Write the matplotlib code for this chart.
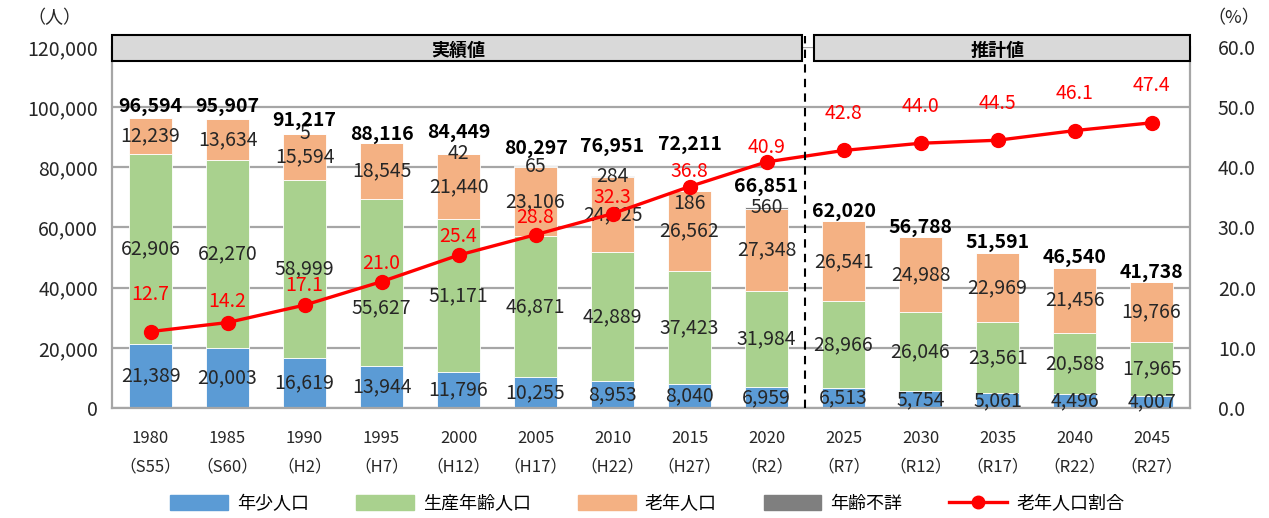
"""
Population by age group (stacked bars) with elderly ratio line.
Outputs out.png.
"""

import matplotlib.pyplot as plt
from matplotlib.patches import Rectangle, Patch
from matplotlib.lines import Line2D
from matplotlib.ticker import FuncFormatter

plt.rcParams["font.family"] = ["Noto Sans CJK JP", "DejaVu Sans"]

years = ["1980", "1985", "1990", "1995", "2000", "2005", "2010",
         "2015", "2020", "2025", "2030", "2035", "2040", "2045"]
eras = ["S55", "S60", "H2", "H7", "H12", "H17", "H22",
        "H27", "R2", "R7", "R12", "R17", "R22", "R27"]

young = [21389, 20003, 16619, 13944, 11796, 10255, 8953,
         8040, 6959, 6513, 5754, 5061, 4496, 4007]
working = [62906, 62270, 58999, 55627, 51171, 46871, 42889,
           37423, 31984, 28966, 26046, 23561, 20588, 17965]
elderly = [12239, 13634, 15594, 18545, 21440, 23106, 24825,
           26562, 27348, 26541, 24988, 22969, 21456, 19766]
unknown = [0, 0, 5, 0, 42, 65, 284, 186, 560, 0, 0, 0, 0, 0]
totals = [96594, 95907, 91217, 88116, 84449, 80297, 76951,
          72211, 66851, 62020, 56788, 51591, 46540, 41738]
ratio = [12.7, 14.2, 17.1, 21.0, 25.4, 28.8, 32.3,
         36.8, 40.9, 42.8, 44.0, 44.5, 46.1, 47.4]

C_YOUNG = "#5B9BD5"
C_WORK = "#A9D18E"
C_OLD = "#F4B183"
C_UNK = "#7F7F7F"
C_RED = "#FF0000"
C_GRID = "#A6A6A6"
C_TEXT = "#262626"

LABEL_FS = 14
N_ACTUAL = 9  # 1980-2020 are actual values
PT = 0.72     # points per pixel at dpi 100

# hand-placed label nudges (pixels), as in the source chart
total_lift = [11, 13, 13, 8, 21, 18, 30, 46, 20, 10, 10, 10, 10, 10]
ratio_lift = [37, 21, 20, 18, 19, 17, 16, 15, 14, 37, 37, 37, 37, 37]
seg_nudge = {(1, 3): -25, (3, 7): -12}  # (series, bar) -> pixels

fig = plt.figure(figsize=(12.69, 5.18), dpi=100)
ax = fig.add_axes([0.0883, 0.2124, 0.8495, 0.6969])
x = list(range(len(years)))
w = 0.56

bottoms = [0] * len(x)
series = [(young, C_YOUNG), (working, C_WORK), (elderly, C_OLD), (unknown, C_UNK)]
for k, (vals, col) in enumerate(series):
    ax.bar(x, vals, w, bottom=bottoms, color=col, edgecolor="white",
           linewidth=0.6, zorder=2)
    for i, v in enumerate(vals):
        if v <= 0:
            continue
        dy = seg_nudge.get((k, i), 0) * PT
        ax.annotate(f"{v:,}", (i, bottoms[i] + v / 2), xytext=(0, dy),
                    textcoords="offset points", ha="center", va="center",
                    fontsize=LABEL_FS, color=C_TEXT, zorder=5)
    bottoms = [b + v for b, v in zip(bottoms, vals)]

for i, t in enumerate(totals):
    ax.annotate(f"{t:,}", (i, t), xytext=(0, total_lift[i] * PT),
                textcoords="offset points", ha="center", va="center",
                fontsize=LABEL_FS, fontweight="bold", color="black", zorder=6)

ax.set_xlim(-0.5, len(x) - 0.5)
ax.set_ylim(0, 120000)
ax.set_yticks(range(0, 120001, 20000))
ax.yaxis.set_major_formatter(FuncFormatter(lambda v, p: f"{int(v):,}"))
ax.set_xticks(x)
ax.set_xticklabels([f"{y}\n（{e}）" for y, e in zip(years, eras)],
                   fontsize=12, color=C_TEXT, linespacing=1.9)
ax.tick_params(axis="x", length=0, pad=16)
ax.tick_params(axis="y", length=0, pad=10, labelsize=LABEL_FS, labelcolor=C_TEXT)
ax.grid(axis="y", color=C_GRID, linewidth=1.6, zorder=0)
ax.set_axisbelow(True)
for s in ax.spines.values():
    s.set_color(C_GRID)
    s.set_linewidth(1.6)
ax.spines["top"].set_visible(False)

# ratio line on secondary axis
ax2 = ax.twinx()
ax2.plot(x, ratio, color=C_RED, linewidth=2.4, marker="o", markersize=10, zorder=4)
for i, r in enumerate(ratio):
    ax2.annotate(f"{r:.1f}", (i, r), xytext=(0, ratio_lift[i] * PT),
                 textcoords="offset points", ha="center", va="center",
                 fontsize=LABEL_FS, color=C_RED)
ax2.set_ylim(0, 60)
ax2.set_yticks(range(0, 61, 10))
ax2.yaxis.set_major_formatter(FuncFormatter(lambda v, p: f"{v:.1f}"))
ax2.tick_params(axis="y", length=0, pad=20, labelsize=LABEL_FS, labelcolor=C_TEXT)
for s in ax2.spines.values():
    s.set_visible(False)

# actual / projection header boxes and divider
split = N_ACTUAL - 0.5
ax2.axvline(split, ymin=0, ymax=1.03, color="black", linestyle=(0, (4, 3)),
            linewidth=1.5, clip_on=False, zorder=6)
box_kw = dict(facecolor="#D9D9D9", edgecolor="black", linewidth=1.5,
              clip_on=False, zorder=7)
ax2.add_patch(Rectangle((-0.5, 57.6), split - 0.04 + 0.5, 4.4, **box_kw))
ax2.add_patch(Rectangle((split + 0.12, 57.6), len(x) - 0.5 - split - 0.12, 4.4, **box_kw))
ax2.text((split - 0.5) / 2, 59.5, "実績値", ha="center", va="center",
         fontsize=13, fontweight="bold", zorder=8)
ax2.text((split + len(x) - 0.5) / 2, 59.5, "推計値", ha="center", va="center",
         fontsize=13, fontweight="bold", zorder=8)

fig.text(0.043, 0.965, "（人）", ha="center", va="center", fontsize=13, color=C_TEXT)
fig.text(0.972, 0.965, "（%）", ha="center", va="center", fontsize=13, color=C_TEXT)

handles = [
    Patch(color=C_YOUNG, label="年少人口"),
    Patch(color=C_WORK, label="生産年齢人口"),
    Patch(color=C_OLD, label="老年人口"),
    Patch(color=C_UNK, label="年齢不詳"),
    Line2D([0], [0], color=C_RED, linewidth=2.4, marker="o", markersize=9,
           label="老年人口割合"),
]
fig.legend(handles=handles, loc="center", bbox_to_anchor=(0.51, 0.027), ncol=5,
           frameon=False, fontsize=13, handlelength=3.2, handleheight=0.9,
           columnspacing=2.6, handletextpad=0.5)

fig.savefig("out.png", dpi=100)
